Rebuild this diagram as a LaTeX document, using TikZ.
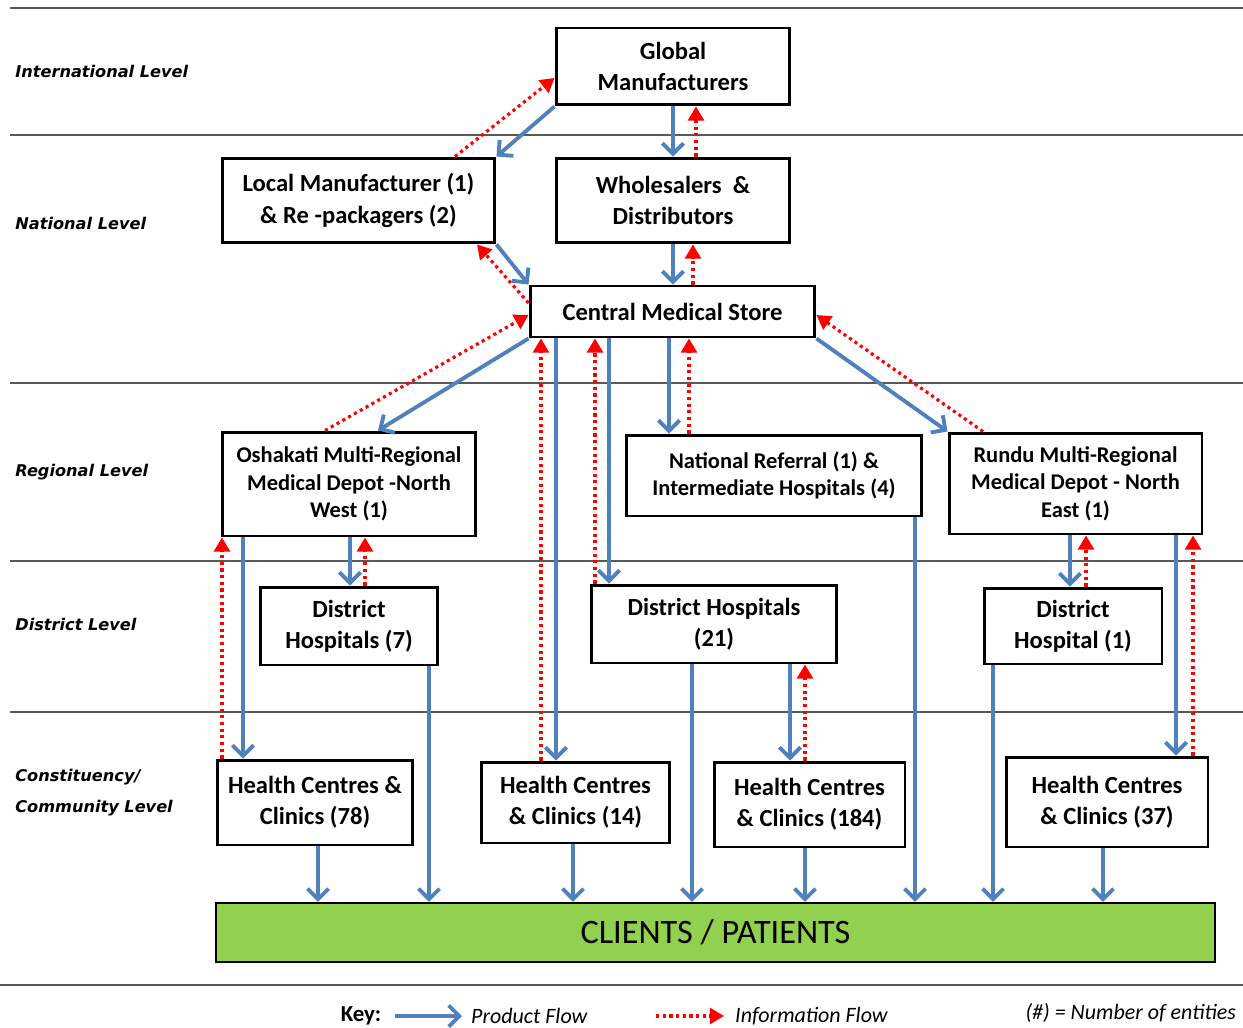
\documentclass[tikz,border=0pt]{standalone}
\usepackage{fontspec}
\setmainfont{Carlito}
\newfontfamily\lvlfont{DejaVu Sans}
\usetikzlibrary{arrows.meta}
\definecolor{pblue}{RGB}{79,129,189}
\definecolor{cgreen}{RGB}{146,208,80}

\begin{document}
\begin{tikzpicture}[x=0.02cm, y=-0.02cm,
box/.style ={draw, line width=1.7pt, align=center, inner sep=1pt,
  font=\bfseries\fontsize{14}{17.8}\selectfont},
rbox/.style ={box, font=\bfseries\fontsize{12.8}{15.6}\selectfont},
lvl/.style ={anchor=west, align=left, inner sep=0pt,
  font=\lvlfont\bfseries\itshape\fontsize{9.2}{17.6}\selectfont},
prod/.style ={draw=pblue, line width=2.2pt,
  -{Straight Barb[length=6pt,width=12pt]}},
info/.style ={draw=red, line width=1.8pt, dash pattern=on 1.8pt off 2pt,
  -{Triangle[length=8pt,width=9pt]}},
sep/.style ={draw=black!65, line width=0.6pt}
]
\useasboundingbox (0,0) rectangle (1243,1027);

\foreach \y in {8,135,383,561,712}
  \draw[sep] (10,\y) -- (1243,\y);
\draw[sep] (0,985) -- (1243,985);

\node[lvl] (lint) at (15,71) {International Level};
\node[lvl] (lnat) at (15,223) {National Level};
\node[lvl] (lreg) at (15,472) {Regional Level};
\node[lvl] (ldis) at (15,624) {District Level};
\node[lvl] (lcon) at (15,792.5) {Constituency/\\Community Level};

\node[box, minimum width=4.68cm, minimum height=1.54cm] (gm) at (673,66.5)
  {Global\\Manufacturers};
\node[box, minimum width=5.46cm, minimum height=1.7cm] (lm) at (358.5,200.5)
  {Local Manufacturer (1)\\\& Re -packagers (2)};
\node[box, minimum width=4.68cm, minimum height=1.7cm] (wd) at (673,200.5)
  {Wholesalers~~\&\\Distributors};
\node[box, minimum width=5.7cm, minimum height=1.02cm] (cms) at (672.5,311.5)
  {Central Medical Store};
\node[rbox, minimum width=5.08cm, minimum height=2.08cm] (osh) at (349,484)
  {Oshakati Multi-Regional\\Medical Depot -North\\West (1)};
\node[rbox, minimum width=5.92cm, minimum height=1.62cm] (nrh) at (774,475.5)
  {National Referral (1) \&\\Intermediate Hospitals (4)};
\node[rbox, minimum width=5.06cm, minimum height=2.02cm] (run) at (1075.5,483.5)
  {Rundu Multi-Regional\\Medical Depot - North\\East (1)};
\node[box, minimum width=3.56cm, minimum height=1.56cm] (dh7) at (349,626)
  {District\\Hospitals (7)};
\node[box, minimum width=4.92cm, minimum height=1.56cm] (dh21) at (714,624)
  {District Hospitals\\(21)};
\node[box, minimum width=3.56cm, minimum height=1.52cm] (dh1) at (1073,626)
  {District\\Hospital (1)};
\node[box, minimum width=3.92cm, minimum height=1.7cm] (hc78) at (315,802.5)
  {Health Centres \&\\Clinics (78)};
\node[box, minimum width=3.78cm, minimum height=1.62cm] (hc14) at (575.5,802.5)
  {Health Centres\\\& Clinics (14)};
\node[box, minimum width=3.82cm, minimum height=1.7cm] (hc184) at (809.5,804.5)
  {Health Centres\\\& Clinics (184)};
\node[box, minimum width=4.04cm, minimum height=1.8cm] (hc37) at (1107,802)
  {Health Centres\\\& Clinics (37)};
\node[draw, line width=1.2pt, fill=cgreen, minimum width=19.98cm,
  minimum height=1.18cm, font=\fontsize{19.5}{22}\selectfont] (cli) at (715.5,932.5)
  {CLIENTS / PATIENTS};

\draw[prod] (gm.south west) -- (lm.north east);
\draw[prod] (gm.south -| 673,0) -- (wd.north -| 673,0);
\draw[prod] (lm.south east) -- (cms.north west);
\draw[prod] (wd.south -| 673,0) -- (cms.north -| 673,0);
\draw[prod] (cms.south west) -- (osh.north -| 378,0);
\draw[prod] (cms.south -| 556,0) -- (hc14.north -| 556,0);
\draw[prod] (cms.south -| 609,0) -- (dh21.north -| 609,0);
\draw[prod] (cms.south -| 669,0) -- (nrh.north -| 669,0);
\draw[prod] (cms.south east) -- (run.north west);
\draw[prod] (osh.south -| 243,0) -- (hc78.north -| 243,0);
\draw[prod] (osh.south -| 350,0) -- (dh7.north -| 350,0);
\draw[prod] (dh7.south -| 429,0) -- (cli.north -| 429,0);
\draw[prod] (hc78.south -| 318,0) -- (cli.north -| 318,0);
\draw[prod] (hc14.south -| 573,0) -- (cli.north -| 573,0);
\draw[prod] (dh21.south -| 692,0) -- (cli.north -| 692,0);
\draw[prod] (dh21.south -| 790,0) -- (hc184.north -| 790,0);
\draw[prod] (hc184.south -| 805,0) -- (cli.north -| 805,0);
\draw[prod] (nrh.south -| 915,0) -- (cli.north -| 915,0);
\draw[prod] (run.south -| 1070,0) -- (dh1.north -| 1070,0);
\draw[prod] (run.south -| 1176,0) -- (hc37.north -| 1176,0);
\draw[prod] (dh1.south -| 993,0) -- (cli.north -| 993,0);
\draw[prod] (hc37.south -| 1103,0) -- (cli.north -| 1103,0);

\draw[info] (lm.north -| 455,0) -- (gm.west |- 0,78);
\draw[info] (wd.north -| 696,0) -- (gm.south -| 696,0);
\draw[info] (cms.west |- 0,303) -- (lm.south -| 477,0);
\draw[info] (cms.north -| 693,0) -- (wd.south -| 693,0);
\draw[info] (osh.north -| 325,0) -- (cms.west |- 0,315);
\draw[info] (hc78.north -| 222,0) -- (osh.south -| 222,0);
\draw[info] (dh7.north -| 365,0) -- (osh.south -| 365,0);
\draw[info] (hc14.north -| 541,0) -- (cms.south -| 541,0);
\draw[info] (dh21.north -| 595,0) -- (cms.south -| 595,0);
\draw[info] (nrh.north -| 689,0) -- (cms.south -| 689,0);
\draw[info] (run.north -| 983,0) -- (cms.east |- 0,315);
\draw[info] (hc184.north -| 805,0) -- (dh21.south -| 805,0);
\draw[info] (dh1.north -| 1086,0) -- (run.south -| 1086,0);
\draw[info] (hc37.north -| 1193,0) -- (run.south -| 1193,0);

\node[font=\bfseries\fontsize{13}{15}\selectfont] (key) at (361,1016) {Key:};
\coordinate (kp1) at (395,1016);
\coordinate (kp2) at (462,1016);
\coordinate (ki1) at (656,1016);
\coordinate (ki2) at (724,1016);
\draw[prod] (kp1) -- (kp2);
\draw[info] (ki1) -- (ki2);
\node[anchor=west, font=\itshape\fontsize{12.5}{15}\selectfont] (kpt) at (465,1016) {Product Flow};
\node[anchor=west, font=\itshape\fontsize{12.5}{15}\selectfont] (kit) at (729,1016) {Information Flow};
\node[anchor=east, font=\itshape\fontsize{12.5}{15}\selectfont] (knum) at (1242,1013) {(\#) = Number of entities};
\end{tikzpicture}
\end{document}
